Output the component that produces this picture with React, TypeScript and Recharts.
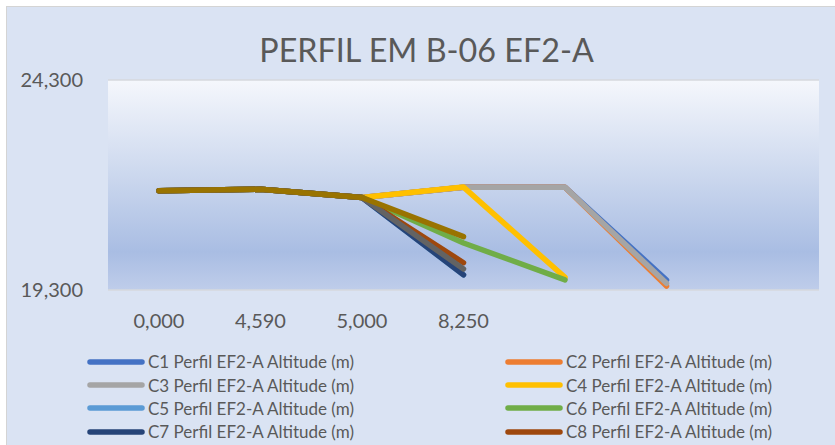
import { LineChart, Line, XAxis, YAxis, CartesianGrid } from "recharts";

// Distâncias (eixo X) — as três últimas categorias não têm rótulo no original
const categories = ["0,000", "4,590", "5,000", "8,250", "", "", ""];

// Altitude (m) por perfil; null = sem ponto
const c1 = [21.664, 21.698, 21.503, 21.745, 21.745, 19.54, null];
const c2 = [21.664, 21.698, 21.503, 21.745, 21.745, 19.395, null];
const c3 = [21.664, 21.698, 21.503, 21.745, 21.745, 19.46, null];
const c4 = [21.664, 21.698, 21.503, 21.75, 19.6, null, null];
const c5 = [21.664, 21.698, 21.503, 19.66, null, null, null];
const c6 = [21.664, 21.698, 21.503, 20.42, 19.54, null, null];
const c7 = [21.664, 21.698, 21.503, 19.66, null, null, null];
const c8 = [21.664, 21.698, 21.503, 19.95, null, null, null];
const c9 = [21.664, 21.698, 21.503, 19.8, null, null, null];
const c10 = [21.664, 21.698, 21.503, 20.57, null, null, null];

const yTicks = [19.3, 24.3];

const series = [
  { key: "c1", name: "C1 Perfil EF2-A Altitude (m)", values: c1, color: "#4472C4" },
  { key: "c2", name: "C2 Perfil EF2-A Altitude (m)", values: c2, color: "#ED7D31" },
  { key: "c3", name: "C3 Perfil EF2-A Altitude (m)", values: c3, color: "#A5A5A5" },
  { key: "c4", name: "C4 Perfil EF2-A Altitude (m)", values: c4, color: "#FFC000" },
  { key: "c5", name: "C5 Perfil EF2-A Altitude (m)", values: c5, color: "#5B9BD5" },
  { key: "c6", name: "C6 Perfil EF2-A Altitude (m)", values: c6, color: "#70AD47" },
  { key: "c7", name: "C7 Perfil EF2-A Altitude (m)", values: c7, color: "#264478" },
  { key: "c8", name: "C8 Perfil EF2-A Altitude (m)", values: c8, color: "#9E480E" },
  { key: "c9", name: "C9 Perfil EF2-A Altitude (m)", values: c9, color: "#636363" },
  { key: "c10", name: "C10 Perfil EF2-A Altitude (m)", values: c10, color: "#997300" },
];

// a legenda do original só mostra as 8 primeiras entradas (o resto fica abaixo do corte)
const legendItems = series.slice(0, 8);

const FONT = "Lato, 'Open Sans', sans-serif";
const TEXT = "#595959";

const fmt = (v: number) => v.toFixed(3).replace(".", ",");

export default function App() {
  const data = categories.map((label, i) => {
    const row: Record<string, string | number | null> = { label };
    for (const s of series) row[s.key] = s.values[i];
    return row;
  });

  return (
    <div style={{ position: "fixed", left: 0, top: 0, width: 835, height: 445, overflow: "hidden", background: "#fff", fontFamily: FONT }}>
      <div
        style={{
          position: "absolute",
          left: 6,
          top: 6,
          width: 840,
          height: 470,
          background: "#dae3f3",
          border: "1px solid #d4d4d4",
        }}
      />
      <div
        style={{
          position: "absolute",
          left: 0,
          top: 33,
          width: 853,
          textAlign: "center",
          fontSize: 32.3,
          color: TEXT,
          lineHeight: "34px",
        }}
      >
        PERFIL EM B-06 EF2-A
      </div>
      <div style={{ position: "absolute", left: 0, top: 0 }}>
        <LineChart width={835} height={340} data={data} margin={{ top: 80, right: 16, bottom: 10, left: 0 }}>
          <defs>
            <linearGradient id="plotBg" x1="0" y1="0" x2="0" y2="1">
              <stop offset="0%" stopColor="#f5f7fc" />
              <stop offset="45%" stopColor="#ccd8ee" />
              <stop offset="82%" stopColor="#a9bde3" />
              <stop offset="100%" stopColor="#bfcdea" />
            </linearGradient>
          </defs>
          <CartesianGrid
            vertical={false}
            horizontalPoints={undefined}
            stroke="#d6d9de"
            strokeWidth={1.5}
            fill="url(#plotBg)"
            fillOpacity={1}
          />
          <XAxis
            dataKey="label"
            axisLine={false}
            tickLine={false}
            height={40}
            tickMargin={18}
            interval={0}
            padding={{ left: 51, right: 51 }}
            tick={{ fill: TEXT, fontSize: 20, fontFamily: FONT }}
          />
          <YAxis
            domain={[19.3, 24.3]}
            ticks={yTicks}
            tickFormatter={fmt}
            axisLine={false}
            tickLine={false}
            width={108}
            tickMargin={19}
            tick={{ fill: TEXT, fontSize: 20, fontFamily: FONT }}
          />
          {series.map((s) => (
            <Line
              key={s.key}
              dataKey={s.key}
              name={s.name}
              stroke={s.color}
              strokeWidth={5.5}
              strokeLinecap="round"
              strokeLinejoin="round"
              dot={false}
              activeDot={false}
              type="linear"
              isAnimationActive={false}
            />
          ))}
        </LineChart>
      </div>
      <div
        style={{
          position: "absolute",
          left: 87,
          top: 350,
          display: "grid",
          gridTemplateColumns: "418px 300px",
          rowGap: 0,
        }}
      >
        {legendItems.map((s) => (
          <div key={s.key} style={{ display: "flex", alignItems: "center", height: 23.4, fontSize: 17, color: TEXT }}>
            <svg width={58} height={10} style={{ marginRight: 3 }}>
              <line x1={3} y1={5} x2={55} y2={5} stroke={s.color} strokeWidth={5.5} strokeLinecap="round" />
            </svg>
            <span>{s.name}</span>
          </div>
        ))}
      </div>
    </div>
  );
}
